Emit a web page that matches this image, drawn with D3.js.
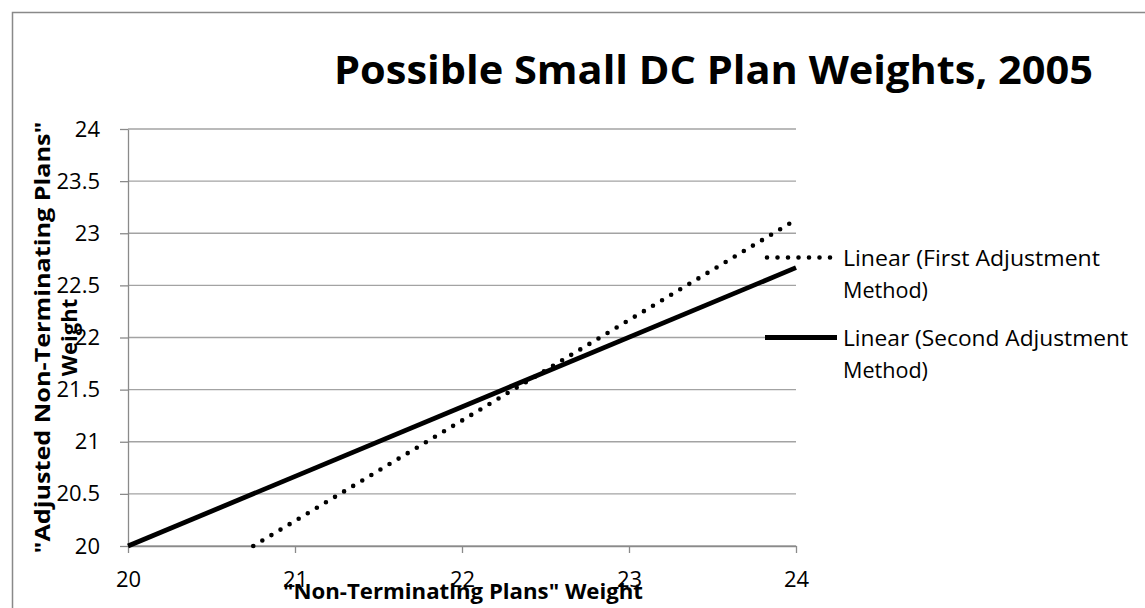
<!DOCTYPE html>
<html><head><meta charset="utf-8">
<script src="https://cdn.jsdelivr.net/npm/d3@7"></script>
<style>body{margin:0;background:#fff}svg{display:block}</style></head>
<body>
<svg id="c" width="1145" height="608"></svg>
<script>
// ---- data ----
const xTicks = [20, 21, 22, 23, 24];
const yTicks = [20, 20.5, 21, 21.5, 22, 22.5, 23, 23.5, 24];
const firstX = [20.75, 24];
const firstY = [20, 23.13];
const secondX = [20, 24];
const secondY = [20, 22.67];
const legendFirst = ["Linear (First Adjustment", "Method)"];
const legendSecond = ["Linear (Second Adjustment", "Method)"];
const titleText = "Possible Small DC Plan Weights, 2005";
const xTitle = "\"Non-Terminating Plans\" Weight";
const yTitle = ["\"Adjusted Non-Terminating Plans\"", "Weight"];

// ---- layout ----
const svg = d3.select("#c");
const FONT = "'Open Sans', 'Noto Sans', sans-serif";
const x = d3.scaleLinear().domain([20, 24]).range([128, 796]);
const y = d3.scaleLinear().domain([20, 24]).range([546, 129]);

// frame
svg.append("rect").attr("x", 12.5).attr("y", 12.5).attr("width", 1160).attr("height", 640)
  .attr("fill", "#fff").attr("stroke", "#898989").attr("stroke-width", 1.5);

// gridlines
svg.append("g").selectAll("line").data(yTicks).join("line")
  .attr("x1", x(20)).attr("x2", x(24))
  .attr("y1", d => y(d)).attr("y2", d => y(d))
  .attr("stroke", "#a3a3a3").attr("stroke-width", 1.3);

// axes
const yAxis = svg.append("g").attr("transform", `translate(${x(20)},0)`)
  .call(d3.axisLeft(y).tickValues(yTicks).tickSize(8).tickSizeOuter(0).tickPadding(20).tickFormat(d => String(d)));
const xAxis = svg.append("g").attr("transform", `translate(0,${y(20)})`)
  .call(d3.axisBottom(x).tickValues(xTicks).tickSize(7).tickSizeOuter(0).tickPadding(18).tickFormat(d => String(d)));
[xAxis, yAxis].forEach(a => {
  a.selectAll("path,line").attr("stroke", "#8a8a8a").attr("stroke-width", 1.3);
  a.selectAll("text").attr("font-family", FONT).attr("font-size", 22).attr("fill", "#000");
});

// lines
const line = d3.line().x(d => x(d[0])).y(d => y(d[1]));
svg.append("path").datum(firstX.map((v, i) => [v, firstY[i]]))
  .attr("d", line).attr("fill", "none").attr("stroke", "#000")
  .attr("stroke-width", 4.6).attr("stroke-linecap", "round").attr("stroke-dasharray", "0 10.6");
svg.append("path").datum(secondX.map((v, i) => [v, secondY[i]]))
  .attr("d", line).attr("fill", "none").attr("stroke", "#000")
  .attr("stroke-width", 4.8);

// legend
const lg = svg.append("g");
lg.append("line").attr("x1", 767).attr("x2", 831).attr("y1", 257.5).attr("y2", 257.5)
  .attr("stroke", "#000").attr("stroke-width", 4.6).attr("stroke-linecap", "round").attr("stroke-dasharray", "0 10.5");
lg.append("line").attr("x1", 765).attr("x2", 837).attr("y1", 337.5).attr("y2", 337.5)
  .attr("stroke", "#000").attr("stroke-width", 4.8);
function legText(lines, cy, w1, w2) {
  const t = lg.append("text").attr("font-family", FONT).attr("font-size", 22).attr("fill", "#000");
  lines.forEach((s, i) => t.append("tspan").attr("x", 843).attr("y", cy + 8 + i * 32)
    .attr("textLength", i === 0 ? w1 : w2).attr("lengthAdjust", "spacingAndGlyphs").text(s));
}
legText(legendFirst, 257.5, 257, 85);
legText(legendSecond, 337.5, 285, 85);

// title
svg.append("text").attr("x", 334).attr("y", 84).attr("font-family", FONT).attr("font-weight", 700)
  .attr("font-size", 40).attr("textLength", 759).attr("lengthAdjust", "spacingAndGlyphs").text(titleText);

// x axis title
svg.append("text").attr("x", 463).attr("y", 599).attr("text-anchor", "middle")
  .attr("font-family", FONT).attr("font-weight", 700).attr("font-size", 22)
  .attr("textLength", 360).attr("lengthAdjust", "spacingAndGlyphs").text(xTitle);

// y axis title
const yt = svg.append("g").attr("transform", "translate(0,337.5) rotate(-90)");
yt.append("text").attr("x", 0).attr("y", 50).attr("text-anchor", "middle")
  .attr("font-family", FONT).attr("font-weight", 700).attr("font-size", 22)
  .attr("textLength", 432).attr("lengthAdjust", "spacingAndGlyphs").text(yTitle[0]);
yt.append("text").attr("x", 0).attr("y", 77).attr("text-anchor", "middle")
  .attr("font-family", FONT).attr("font-weight", 700).attr("font-size", 22).text(yTitle[1]);
</script>
</body></html>
